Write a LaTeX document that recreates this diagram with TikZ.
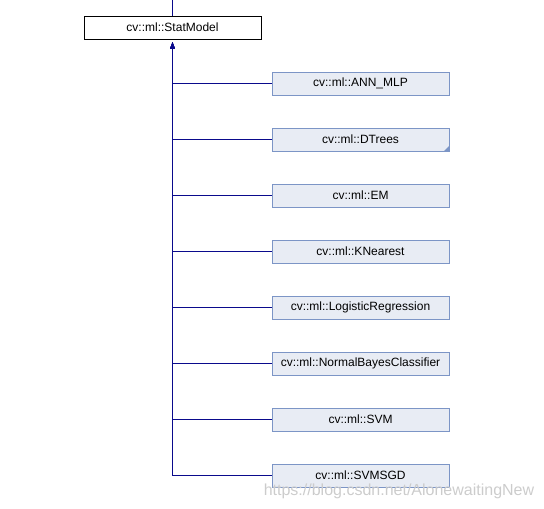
\documentclass[tikz,border=0pt]{standalone}
\usepackage{fontspec}
\setmainfont{Liberation Sans}
\usepackage{xcolor}
\usepackage{tikz}
\usetikzlibrary{arrows.meta, positioning, calc}
\definecolor{doxyFill}{RGB}{232, 236, 244}
\definecolor{doxyBorder}{RGB}{124, 149, 198}
\definecolor{doxyEdge}{RGB}{10, 10, 140}

\begin{document}
\begin{tikzpicture}[
    x=1pt, y=-1pt,
    node distance=32pt,
    basebox/.style={rectangle, draw=black, fill=white, line width=1pt, inner sep=0pt, minimum width=177pt, minimum height=23pt, align=center, font=\fontsize{12}{14}\selectfont},
    childbox/.style={basebox, draw=doxyBorder, fill=doxyFill},
    edge/.style={draw=doxyEdge, line width=1pt},
    inherit/.style={edge, -{Latex[length=7pt,width=5pt]}, shorten >=2pt}
]
\useasboundingbox (0,0) rectangle (544,509);

% Base class
\node[basebox] (statmodel) at (172.5,27.5) {cv::ml::StatModel};
\coordinate (parent) at (172.5,0);

% Derived classes
\node[childbox] (annmlp) at (360.5,83.5) {cv::ml::ANN\_MLP};
\node[childbox, below=of annmlp] (dtrees) {cv::ml::DTrees};
\node[childbox, below=of dtrees] (em) {cv::ml::EM};
\node[childbox, below=of em] (knearest) {cv::ml::KNearest};
\node[childbox, below=of knearest] (logreg) {cv::ml::LogisticRegression};
\node[childbox, below=of logreg] (normalbayes) {cv::ml::NormalBayesClassifier};
\node[childbox, below=of normalbayes] (svm) {cv::ml::SVM};
\node[childbox, below=of svm] (svmsgd) {cv::ml::SVMSGD};

% Corner mark: DTrees has more derived classes
\fill[doxyBorder] ([xshift=-6pt]dtrees.south east) -- (dtrees.south east) -- ([yshift=6pt]dtrees.south east) -- cycle;

% Arrows
\draw[edge] (statmodel.north) -- (parent);
\draw[inherit] (annmlp.west) -| (statmodel.south);
\draw[inherit] (dtrees.west) -| (statmodel.south);
\draw[inherit] (em.west) -| (statmodel.south);
\draw[inherit] (knearest.west) -| (statmodel.south);
\draw[inherit] (logreg.west) -| (statmodel.south);
\draw[inherit] (normalbayes.west) -| (statmodel.south);
\draw[inherit] (svm.west) -| (statmodel.south);
\draw[inherit] (svmsgd.west) -| (statmodel.south);

% Watermark
\node[text=black!20, font=\fontsize{16}{18}\selectfont] (mark) at (399,491) {https://blog.csdn.net/AlonewaitingNew};

\end{tikzpicture}
\end{document}
